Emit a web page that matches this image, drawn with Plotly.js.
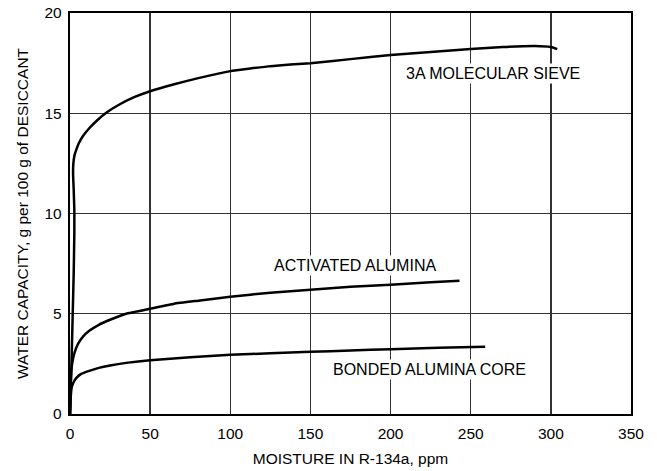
<!DOCTYPE html>
<html>
<head>
<meta charset="utf-8">
<script src="https://cdn.plot.ly/plotly-3.0.1.min.js"></script>
<style>html,body{margin:0;padding:0;background:#fff;}#chart{width:657px;height:471px;}</style>
</head>
<body>
<div id="chart"></div>
<script>
var sieveX = [0, 0.5, 1.0, 1.7, 2.3, 2.7, 2.7, 2.3, 1.9, 2.1, 2.8, 4.0, 5.5, 8, 12, 17, 23, 30, 40, 50, 65, 80, 100, 125, 150, 175, 200, 225, 250, 270, 290, 300, 304];
var sieveY = [0, 1.5, 2.7, 5.0, 7.0, 9.0, 10.2, 11.2, 12.0, 12.5, 12.9, 13.2, 13.5, 13.85, 14.25, 14.65, 15.05, 15.4, 15.8, 16.1, 16.45, 16.75, 17.1, 17.35, 17.5, 17.7, 17.9, 18.05, 18.2, 18.3, 18.35, 18.3, 18.2];
var actX = [0, 0.5, 1, 2, 3, 5, 8, 12, 18, 25, 35, 50, 65, 80, 100, 125, 150, 175, 200, 225, 243];
var actY = [0, 1.6, 2.3, 2.8, 3.1, 3.5, 3.85, 4.15, 4.45, 4.7, 5.0, 5.25, 5.5, 5.65, 5.85, 6.05, 6.2, 6.35, 6.45, 6.57, 6.65];
var bondX = [0, 0.5, 1, 2, 4, 7, 12, 18, 25, 35, 50, 75, 100, 125, 150, 175, 200, 230, 259];
var bondY = [0, 0.9, 1.3, 1.55, 1.8, 2.0, 2.15, 2.3, 2.42, 2.55, 2.68, 2.83, 2.95, 3.03, 3.1, 3.17, 3.23, 3.3, 3.36];
var seriesNames = ["3A MOLECULAR SIEVE", "ACTIVATED ALUMINA", "BONDED ALUMINA CORE"];
var labelX = [264, 178, 224];
var labelY = [17.0, 7.43, 2.24];
var xTicks = [0, 50, 100, 150, 200, 250, 300, 350];
var yTicks = [0, 5, 10, 15, 20];

var lineStyle = {color: "#000", width: 2.5, shape: "spline", smoothing: 0.3};
var traces = [
  {x: sieveX, y: sieveY, mode: "lines", line: lineStyle, name: seriesNames[0], hoverinfo: "skip"},
  {x: actX, y: actY, mode: "lines", line: lineStyle, name: seriesNames[1], hoverinfo: "skip"},
  {x: bondX, y: bondY, mode: "lines", line: lineStyle, name: seriesNames[2], hoverinfo: "skip"}
];
var annotations = seriesNames.map(function(n, i){
  return {x: labelX[i], y: labelY[i], xref: "x", yref: "y", text: n, showarrow: false,
    bgcolor: "#fff", borderpad: 1, font: {family: "Liberation Sans, Arial, sans-serif", size: 16, color: "#000"}};
});
var layout = {
  width: 657, height: 471,
  margin: {l: 70, r: 26, t: 13, b: 57},
  paper_bgcolor: "#fff", plot_bgcolor: "#fff",
  showlegend: false,
  font: {family: "Liberation Sans, Arial, sans-serif", color: "#000"},
  xaxis: {range: [0, 350], tickvals: xTicks, ticktext: xTicks.map(String), ticks: "", showgrid: true,
    gridcolor: "#333", gridwidth: 1.3, zeroline: false, showline: true, linecolor: "#000", linewidth: 2.2, mirror: true,
    tickfont: {size: 15.5}, ticklabelstandoff: 4, title: {text: "MOISTURE IN R-134a, ppm", font: {size: 15.5}, standoff: 12}},
  yaxis: {range: [0, 20], tickvals: yTicks, ticktext: yTicks.map(String), ticks: "", showgrid: true,
    gridcolor: "#333", gridwidth: 1.3, zeroline: false, showline: true, linecolor: "#000", linewidth: 2.2, mirror: true,
    tickfont: {size: 15.5}, ticklabelstandoff: 3, title: {text: "WATER CAPACITY, g per 100 g of DESICCANT", font: {size: 15.5}, standoff: 12}},
  annotations: annotations
};
Plotly.newPlot("chart", traces, layout, {displayModeBar: false, staticPlot: true});
</script>
</body>
</html>
